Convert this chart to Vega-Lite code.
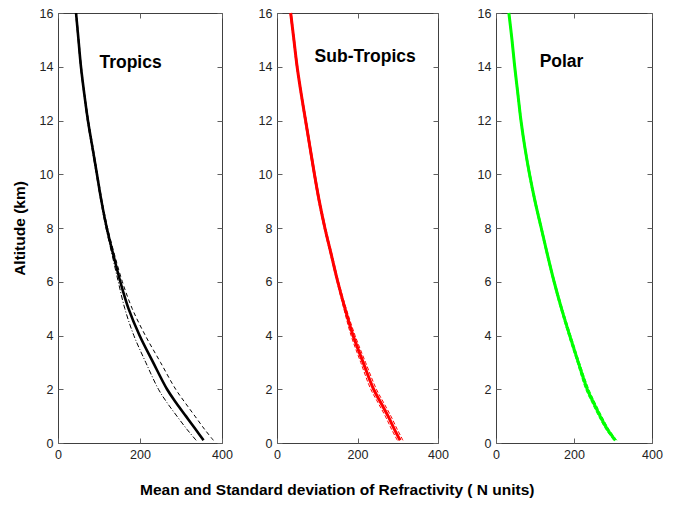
{
  "$schema": "https://vega.github.io/schema/vega-lite/v6.json",
  "background": "white",
  "padding": {"left": 11, "top": 6, "right": 5, "bottom": 3},
  "datasets": {
    "profiles": [
      {"region": "Tropics", "h": 0.1, "mean": 355, "lo": 337, "hi": 379},
      {"region": "Tropics", "h": 0.5, "mean": 336, "lo": 315, "hi": 358},
      {"region": "Tropics", "h": 1, "mean": 312, "lo": 290, "hi": 334},
      {"region": "Tropics", "h": 1.5, "mean": 288, "lo": 266, "hi": 310},
      {"region": "Tropics", "h": 2, "mean": 266, "lo": 245, "hi": 287},
      {"region": "Tropics", "h": 3, "mean": 232, "lo": 214, "hi": 250},
      {"region": "Tropics", "h": 4, "mean": 199, "lo": 185, "hi": 213},
      {"region": "Tropics", "h": 5, "mean": 172, "lo": 163, "hi": 181},
      {"region": "Tropics", "h": 6, "mean": 152, "lo": 147, "hi": 157},
      {"region": "Tropics", "h": 7, "mean": 135, "lo": 132, "hi": 138},
      {"region": "Tropics", "h": 8, "mean": 119, "lo": 117, "hi": 121},
      {"region": "Tropics", "h": 9, "mean": 106, "lo": 104.5, "hi": 107.5},
      {"region": "Tropics", "h": 10, "mean": 95, "lo": 93.5, "hi": 96.5},
      {"region": "Tropics", "h": 11, "mean": 84, "lo": 82.5, "hi": 85.5},
      {"region": "Tropics", "h": 12, "mean": 73, "lo": 71.5, "hi": 74.5},
      {"region": "Tropics", "h": 13, "mean": 64, "lo": 63, "hi": 65},
      {"region": "Tropics", "h": 14, "mean": 56, "lo": 55, "hi": 57},
      {"region": "Tropics", "h": 15, "mean": 50, "lo": 49, "hi": 51},
      {"region": "Tropics", "h": 16, "mean": 44, "lo": 43, "hi": 45},
      {"region": "Sub-Tropics", "h": 0.1, "mean": 306, "lo": 299, "hi": 313},
      {"region": "Sub-Tropics", "h": 0.5, "mean": 292, "lo": 285, "hi": 299},
      {"region": "Sub-Tropics", "h": 1, "mean": 276, "lo": 269, "hi": 283},
      {"region": "Sub-Tropics", "h": 1.5, "mean": 258, "lo": 251, "hi": 265},
      {"region": "Sub-Tropics", "h": 2, "mean": 240, "lo": 233, "hi": 247},
      {"region": "Sub-Tropics", "h": 3, "mean": 214, "lo": 208, "hi": 220},
      {"region": "Sub-Tropics", "h": 4, "mean": 189, "lo": 184, "hi": 194},
      {"region": "Sub-Tropics", "h": 5, "mean": 169, "lo": 166, "hi": 172},
      {"region": "Sub-Tropics", "h": 6, "mean": 151, "lo": 149, "hi": 153},
      {"region": "Sub-Tropics", "h": 7, "mean": 135, "lo": 133, "hi": 137},
      {"region": "Sub-Tropics", "h": 8, "mean": 119, "lo": 117, "hi": 121},
      {"region": "Sub-Tropics", "h": 9, "mean": 105, "lo": 103, "hi": 107},
      {"region": "Sub-Tropics", "h": 10, "mean": 93, "lo": 91, "hi": 95},
      {"region": "Sub-Tropics", "h": 11, "mean": 82, "lo": 80, "hi": 84},
      {"region": "Sub-Tropics", "h": 12, "mean": 71, "lo": 69, "hi": 73},
      {"region": "Sub-Tropics", "h": 13, "mean": 60, "lo": 58.5, "hi": 61.5},
      {"region": "Sub-Tropics", "h": 14, "mean": 50, "lo": 48.5, "hi": 51.5},
      {"region": "Sub-Tropics", "h": 15, "mean": 42, "lo": 40.5, "hi": 43.5},
      {"region": "Sub-Tropics", "h": 16, "mean": 34, "lo": 32.5, "hi": 35.5},
      {"region": "Polar", "h": 0.1, "mean": 306, "lo": 302, "hi": 310},
      {"region": "Polar", "h": 0.5, "mean": 286, "lo": 282, "hi": 290},
      {"region": "Polar", "h": 1, "mean": 267, "lo": 263, "hi": 271},
      {"region": "Polar", "h": 1.5, "mean": 250, "lo": 246, "hi": 254},
      {"region": "Polar", "h": 2, "mean": 234, "lo": 230, "hi": 238},
      {"region": "Polar", "h": 3, "mean": 211, "lo": 208, "hi": 214},
      {"region": "Polar", "h": 4, "mean": 189, "lo": 186, "hi": 192},
      {"region": "Polar", "h": 5, "mean": 168, "lo": 165.5, "hi": 170.5},
      {"region": "Polar", "h": 6, "mean": 149, "lo": 147, "hi": 151},
      {"region": "Polar", "h": 7, "mean": 132, "lo": 130, "hi": 134},
      {"region": "Polar", "h": 8, "mean": 116, "lo": 114, "hi": 118},
      {"region": "Polar", "h": 9, "mean": 100, "lo": 98, "hi": 102},
      {"region": "Polar", "h": 10, "mean": 86, "lo": 84, "hi": 88},
      {"region": "Polar", "h": 11, "mean": 74, "lo": 72.5, "hi": 75.5},
      {"region": "Polar", "h": 12, "mean": 64, "lo": 62.5, "hi": 65.5},
      {"region": "Polar", "h": 13, "mean": 56, "lo": 54.5, "hi": 57.5},
      {"region": "Polar", "h": 14, "mean": 48, "lo": 47, "hi": 49},
      {"region": "Polar", "h": 15, "mean": 41, "lo": 40, "hi": 42},
      {"region": "Polar", "h": 16, "mean": 33, "lo": 32, "hi": 34}
    ],
    "labels": [
      {"region": "Tropics", "x": 177, "y": 14.15},
      {"region": "Sub-Tropics", "x": 219, "y": 14.36},
      {"region": "Polar", "x": 168, "y": 14.18}
    ]
  },
  "title": {
    "text": "Mean and Standard deviation of Refractivity ( N units)",
    "orient": "bottom",
    "anchor": "middle",
    "fontSize": 15.5,
    "fontWeight": "bold",
    "font": "Liberation Sans",
    "color": "black",
    "offset": 22
  },
  "spacing": 24,
  "hconcat": [
    {
      "width": 164,
      "height": 430,
      "data": {"name": "profiles"},
      "transform": [{"filter": "datum.region === 'Tropics'"}],
      "resolve": {"axis": {"x": "independent", "y": "independent"}},
      "layer": [
        {
          "mark": {"type": "line", "color": "black", "strokeWidth": 2.6, "interpolate": "catmull-rom"},
          "encoding": {
            "x": {"field": "mean", "type": "quantitative", "scale": {"domain": [0, 400], "nice": false}, "axis": {"orient": "bottom", "values": [0, 200, 400], "title": null}},
            "y": {"field": "h", "type": "quantitative", "scale": {"domain": [0, 16], "nice": false}, "axis": {"orient": "left", "values": [0, 2, 4, 6, 8, 10, 12, 14, 16], "title": "Altitude (km)", "titlePadding": 12}},
            "order": {"field": "h"}
          }
        },
        {
          "mark": {"type": "line", "color": "black", "strokeWidth": 1, "strokeDash": [5, 2, 1, 2], "interpolate": "catmull-rom"},
          "encoding": {
            "x": {"field": "lo", "type": "quantitative", "axis": {"orient": "top", "values": [0, 200, 400], "labels": false, "title": null}},
            "y": {"field": "h", "type": "quantitative", "axis": {"orient": "right", "values": [0, 2, 4, 6, 8, 10, 12, 14, 16], "labels": false, "title": null}},
            "order": {"field": "h"}
          }
        },
        {
          "mark": {"type": "line", "color": "black", "strokeWidth": 1, "strokeDash": [4, 3], "interpolate": "catmull-rom"},
          "encoding": {
            "x": {"field": "hi", "type": "quantitative", "axis": null},
            "y": {"field": "h", "type": "quantitative", "axis": null},
            "order": {"field": "h"}
          }
        },
        {
          "data": {"name": "labels"},
          "transform": [{"filter": "datum.region === 'Tropics'"}],
          "mark": {"type": "text", "fontSize": 17.5, "fontWeight": "bold", "font": "Liberation Sans", "color": "black", "baseline": "middle", "align": "center"},
          "encoding": {
            "x": {"field": "x", "type": "quantitative", "axis": null},
            "y": {"field": "y", "type": "quantitative", "axis": null},
            "text": {"field": "region"}
          }
        }
      ]
    },
    {
      "width": 161,
      "height": 430,
      "data": {"name": "profiles"},
      "transform": [{"filter": "datum.region === 'Sub-Tropics'"}],
      "resolve": {"axis": {"x": "independent", "y": "independent"}},
      "layer": [
        {
          "mark": {"type": "line", "color": "#ff0000", "strokeWidth": 3, "interpolate": "catmull-rom"},
          "encoding": {
            "x": {"field": "mean", "type": "quantitative", "scale": {"domain": [0, 400], "nice": false}, "axis": {"orient": "bottom", "values": [0, 200, 400], "title": null}},
            "y": {"field": "h", "type": "quantitative", "scale": {"domain": [0, 16], "nice": false}, "axis": {"orient": "left", "values": [0, 2, 4, 6, 8, 10, 12, 14, 16], "title": null}},
            "order": {"field": "h"}
          }
        },
        {
          "mark": {"type": "line", "color": "#ff0000", "strokeWidth": 1, "strokeDash": [4, 2], "interpolate": "catmull-rom"},
          "encoding": {
            "x": {"field": "lo", "type": "quantitative", "axis": {"orient": "top", "values": [0, 200, 400], "labels": false, "title": null}},
            "y": {"field": "h", "type": "quantitative", "axis": {"orient": "right", "values": [0, 2, 4, 6, 8, 10, 12, 14, 16], "labels": false, "title": null}},
            "order": {"field": "h"}
          }
        },
        {
          "mark": {"type": "line", "color": "#ff0000", "strokeWidth": 1, "strokeDash": [4, 2], "interpolate": "catmull-rom"},
          "encoding": {
            "x": {"field": "hi", "type": "quantitative", "axis": null},
            "y": {"field": "h", "type": "quantitative", "axis": null},
            "order": {"field": "h"}
          }
        },
        {
          "data": {"name": "labels"},
          "transform": [{"filter": "datum.region === 'Sub-Tropics'"}],
          "mark": {"type": "text", "fontSize": 17.5, "fontWeight": "bold", "font": "Liberation Sans", "color": "black", "baseline": "middle", "align": "center"},
          "encoding": {
            "x": {"field": "x", "type": "quantitative", "axis": null},
            "y": {"field": "y", "type": "quantitative", "axis": null},
            "text": {"field": "region"}
          }
        }
      ]
    },
    {
      "width": 156,
      "height": 430,
      "data": {"name": "profiles"},
      "transform": [{"filter": "datum.region === 'Polar'"}],
      "resolve": {"axis": {"x": "independent", "y": "independent"}},
      "layer": [
        {
          "mark": {"type": "line", "color": "#00ff00", "strokeWidth": 3, "interpolate": "catmull-rom"},
          "encoding": {
            "x": {"field": "mean", "type": "quantitative", "scale": {"domain": [0, 400], "nice": false}, "axis": {"orient": "bottom", "values": [0, 200, 400], "title": null}},
            "y": {"field": "h", "type": "quantitative", "scale": {"domain": [0, 16], "nice": false}, "axis": {"orient": "left", "values": [0, 2, 4, 6, 8, 10, 12, 14, 16], "title": null, "minExtent": 22}},
            "order": {"field": "h"}
          }
        },
        {
          "mark": {"type": "line", "color": "#00ff00", "strokeWidth": 1, "strokeDash": [4, 2], "interpolate": "catmull-rom"},
          "encoding": {
            "x": {"field": "lo", "type": "quantitative", "axis": {"orient": "top", "values": [0, 200, 400], "labels": false, "title": null}},
            "y": {"field": "h", "type": "quantitative", "axis": {"orient": "right", "values": [0, 2, 4, 6, 8, 10, 12, 14, 16], "labels": false, "title": null}},
            "order": {"field": "h"}
          }
        },
        {
          "mark": {"type": "line", "color": "#00ff00", "strokeWidth": 1, "strokeDash": [4, 2], "interpolate": "catmull-rom"},
          "encoding": {
            "x": {"field": "hi", "type": "quantitative", "axis": null},
            "y": {"field": "h", "type": "quantitative", "axis": null},
            "order": {"field": "h"}
          }
        },
        {
          "data": {"name": "labels"},
          "transform": [{"filter": "datum.region === 'Polar'"}],
          "mark": {"type": "text", "fontSize": 17.5, "fontWeight": "bold", "font": "Liberation Sans", "color": "black", "baseline": "middle", "align": "center"},
          "encoding": {
            "x": {"field": "x", "type": "quantitative", "axis": null},
            "y": {"field": "y", "type": "quantitative", "axis": null},
            "text": {"field": "region"}
          }
        }
      ]
    }
  ],
  "config": {
    "font": "Liberation Sans",
    "view": {"stroke": "#404040", "strokeWidth": 1},
    "axis": {
      "grid": false,
      "domain": false,
      "tickSize": -5,
      "tickColor": "#606060",
      "labelFont": "Liberation Sans",
      "labelFontSize": 12.5,
      "labelColor": "#222222",
      "labelPadding": 10,
      "labelFlush": false,
      "titleFont": "Liberation Sans",
      "titleFontSize": 15.5,
      "titleFontWeight": "bold",
      "titleColor": "black"
    }
  }
}
